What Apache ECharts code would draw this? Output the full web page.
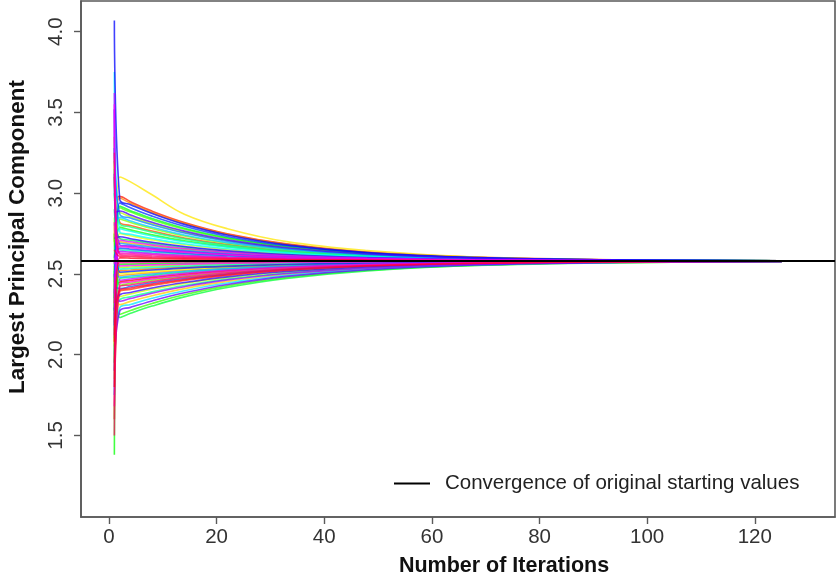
<!DOCTYPE html>
<html>
<head>
<meta charset="utf-8">
<script src="https://cdn.jsdelivr.net/npm/echarts@6/dist/echarts.min.js"></script>
<style>
  html, body { margin: 0; padding: 0; background: #fff; }
  #chart { width: 837px; height: 577px; }
</style>
</head>
<body>
<div id="chart"></div>
<script>
// Iteration numbers at which each run's estimate is recorded
const iterations = [1, 2, 4, 8, 14, 22, 33, 48, 68, 95, 125];

// One row per random starting value: largest principal component estimate at each iteration above
const runs = [
  [2.40, 2.45, 2.459, 2.477, 2.498, 2.519, 2.540, 2.557, 2.569, 2.576, 2.579],
  [2.95, 2.98, 2.947, 2.889, 2.819, 2.749, 2.686, 2.635, 2.604, 2.587, 2.582],
  [1.60, 2.39, 2.404, 2.429, 2.460, 2.491, 2.521, 2.547, 2.565, 2.574, 2.578],
  [3.10, 2.82, 2.800, 2.766, 2.723, 2.682, 2.643, 2.613, 2.594, 2.584, 2.581],
  [2.20, 2.52, 2.524, 2.532, 2.542, 2.552, 2.562, 2.570, 2.575, 2.578, 2.579],
  [2.70, 2.97, 2.938, 2.881, 2.813, 2.745, 2.683, 2.634, 2.603, 2.587, 2.582],
  [3.35, 2.49, 2.497, 2.508, 2.523, 2.538, 2.552, 2.564, 2.573, 2.577, 2.579],
  [2.05, 2.70, 2.690, 2.673, 2.652, 2.631, 2.612, 2.597, 2.587, 2.582, 2.581],
  [2.55, 2.31, 2.330, 2.365, 2.409, 2.454, 2.497, 2.533, 2.558, 2.572, 2.578],
  [2.25, 3.10, 3.070, 2.990, 2.870, 2.780, 2.700, 2.645, 2.605, 2.586, 2.581],
  [2.30, 2.50, 2.506, 2.516, 2.529, 2.543, 2.555, 2.566, 2.574, 2.578, 2.579],
  [1.85, 2.75, 2.736, 2.711, 2.681, 2.652, 2.625, 2.603, 2.590, 2.583, 2.581],
  [2.85, 2.36, 2.376, 2.405, 2.441, 2.477, 2.512, 2.542, 2.562, 2.574, 2.578],
  [2.45, 2.88, 2.855, 2.812, 2.759, 2.707, 2.659, 2.621, 2.598, 2.585, 2.582],
  [3.20, 2.54, 2.543, 2.548, 2.555, 2.561, 2.568, 2.573, 2.577, 2.579, 2.580],
  [2.15, 2.84, 2.819, 2.781, 2.735, 2.690, 2.649, 2.616, 2.595, 2.585, 2.581],
  [2.62, 2.43, 2.441, 2.461, 2.485, 2.510, 2.534, 2.554, 2.568, 2.576, 2.579],
  [1.95, 2.91, 2.883, 2.835, 2.777, 2.720, 2.667, 2.626, 2.599, 2.586, 2.582],
  [2.75, 2.25, 2.274, 2.317, 2.371, 2.426, 2.478, 2.523, 2.553, 2.570, 2.577],
  [2.27, 2.79, 2.773, 2.742, 2.705, 2.669, 2.635, 2.609, 2.592, 2.584, 2.581],
  [1.38, 2.56, 2.561, 2.564, 2.567, 2.571, 2.574, 2.577, 2.578, 2.579, 2.580],
  [2.35, 2.92, 2.892, 2.843, 2.783, 2.724, 2.670, 2.627, 2.600, 2.586, 2.582],
  [2.52, 2.23, 2.256, 2.301, 2.358, 2.416, 2.472, 2.519, 2.552, 2.570, 2.577],
  [2.90, 2.72, 2.709, 2.688, 2.664, 2.639, 2.617, 2.599, 2.588, 2.583, 2.581],
  [2.10, 2.47, 2.478, 2.492, 2.510, 2.529, 2.546, 2.561, 2.571, 2.577, 2.579],
  [3.00, 2.81, 2.791, 2.758, 2.717, 2.677, 2.641, 2.612, 2.594, 2.584, 2.581],
  [2.25, 2.34, 2.358, 2.389, 2.428, 2.468, 2.506, 2.538, 2.561, 2.573, 2.578],
  [2.66, 2.65, 2.644, 2.634, 2.622, 2.610, 2.598, 2.590, 2.584, 2.581, 2.580],
  [3.15, 2.53, 2.534, 2.540, 2.548, 2.557, 2.565, 2.571, 2.576, 2.579, 2.580],
  [2.48, 2.78, 2.764, 2.735, 2.699, 2.665, 2.633, 2.608, 2.592, 2.584, 2.581],
  [3.75, 2.76, 2.745, 2.719, 2.687, 2.656, 2.628, 2.605, 2.591, 2.583, 2.581],
  [2.00, 2.29, 2.311, 2.349, 2.396, 2.444, 2.491, 2.530, 2.557, 2.572, 2.577],
  [2.80, 2.85, 2.828, 2.789, 2.741, 2.694, 2.651, 2.617, 2.596, 2.585, 2.581],
  [2.58, 2.48, 2.487, 2.500, 2.517, 2.533, 2.549, 2.563, 2.572, 2.577, 2.579],
  [1.75, 2.69, 2.681, 2.665, 2.646, 2.627, 2.609, 2.595, 2.586, 2.582, 2.581],
  [3.28, 2.87, 2.846, 2.804, 2.753, 2.703, 2.657, 2.620, 2.597, 2.585, 2.581],
  [2.42, 2.41, 2.422, 2.445, 2.472, 2.500, 2.528, 2.550, 2.566, 2.575, 2.578],
  [2.60, 2.66, 2.653, 2.642, 2.628, 2.614, 2.601, 2.591, 2.585, 2.581, 2.580],
  [2.18, 2.94, 2.910, 2.858, 2.795, 2.732, 2.675, 2.630, 2.601, 2.586, 2.582],
  [3.52, 2.51, 2.515, 2.524, 2.536, 2.547, 2.558, 2.568, 2.574, 2.578, 2.579],
  [4.07, 2.96, 2.929, 2.874, 2.807, 2.741, 2.680, 2.632, 2.602, 2.587, 2.582],
  [2.72, 2.73, 2.718, 2.696, 2.670, 2.643, 2.620, 2.601, 2.589, 2.583, 2.581],
  [2.28, 2.37, 2.385, 2.413, 2.447, 2.482, 2.515, 2.543, 2.563, 2.574, 2.578],
  [2.88, 2.89, 2.865, 2.820, 2.765, 2.711, 2.662, 2.623, 2.598, 2.586, 2.582],
  [1.90, 2.27, 2.293, 2.333, 2.383, 2.435, 2.485, 2.526, 2.555, 2.571, 2.577],
  [3.12, 2.68, 2.672, 2.657, 2.640, 2.622, 2.606, 2.594, 2.586, 2.582, 2.581],
  [2.50, 2.33, 2.348, 2.381, 2.421, 2.463, 2.503, 2.536, 2.560, 2.573, 2.578],
  [2.38, 2.64, 2.635, 2.626, 2.616, 2.605, 2.596, 2.588, 2.584, 2.581, 2.580],
  [3.62, 2.46, 2.469, 2.484, 2.504, 2.524, 2.543, 2.559, 2.570, 2.577, 2.579],
  [2.12, 2.71, 2.699, 2.680, 2.658, 2.635, 2.614, 2.598, 2.588, 2.582, 2.581],
  [3.55, 2.55, 2.552, 2.556, 2.561, 2.566, 2.571, 2.575, 2.578, 2.579, 2.580],
  [2.56, 2.67, 2.663, 2.650, 2.634, 2.618, 2.604, 2.592, 2.585, 2.582, 2.580],
  [1.68, 2.44, 2.450, 2.469, 2.491, 2.514, 2.537, 2.556, 2.569, 2.576, 2.579],
  [2.82, 2.63, 2.626, 2.619, 2.610, 2.601, 2.593, 2.587, 2.583, 2.581, 2.580],
  [2.32, 2.57, 2.571, 2.572, 2.574, 2.575, 2.577, 2.578, 2.579, 2.580, 2.580],
  [3.25, 2.62, 2.617, 2.611, 2.604, 2.597, 2.591, 2.586, 2.582, 2.581, 2.580],
  [1.50, 2.42, 2.432, 2.453, 2.479, 2.505, 2.531, 2.552, 2.567, 2.575, 2.579],
  [2.65, 2.61, 2.608, 2.603, 2.598, 2.593, 2.588, 2.584, 2.582, 2.581, 2.580],
  [2.08, 2.40, 2.413, 2.437, 2.466, 2.496, 2.525, 2.549, 2.565, 2.575, 2.578],
  [1.80, 2.60, 2.598, 2.595, 2.592, 2.588, 2.585, 2.583, 2.581, 2.580, 2.580]
];

// Value reached from the original starting values
const convergedValue = 2.58;

const xTicks = [0, 20, 40, 60, 80, 100, 120];
const yTicks = [1.5, 2.0, 2.5, 3.0, 3.5, 4.0];

const xTitle = 'Number of Iterations';
const yTitle = 'Largest Principal Component';
const legendLabel = 'Convergence of original starting values';

const FONT = '"Liberation Sans", Arial, Helvetica, sans-serif';
const FRAME = '#5a5a5a';

const chart = echarts.init(document.getElementById('chart'), null, { renderer: 'canvas' });

// R-style rainbow palette: one hue per run, red through magenta
const runSeries = runs.map((row, i) => ({
  type: 'line',
  name: 'run ' + (i + 1),
  data: iterations.map((t, k) => [t, row[k]]),
  showSymbol: false,
  symbol: 'none',
  smooth: 0.4,
  silent: true,
  z: 2,
  lineStyle: {
    width: 1.6,
    color: 'hsl(' + (i * 360 / runs.length).toFixed(1) + ', 100%, 50%)',
    opacity: 0.75
  },
  emphasis: { disabled: true }
}));

const convergenceSeries = {
  type: 'line',
  name: legendLabel,
  data: [],
  symbol: 'none',
  z: 5,
  itemStyle: { color: '#000' },
  lineStyle: { color: '#000', width: 2 },
  markLine: {
    silent: true,
    symbol: 'none',
    z: 5,
    label: { show: false },
    lineStyle: { color: '#000', width: 2, type: 'solid' },
    emphasis: { disabled: true },
    data: [{ yAxis: convergedValue }]
  }
};

chart.setOption({
  animation: false,
  backgroundColor: '#fff',
  grid: {
    left: 81, right: 2, top: 1, bottom: 60,
    show: true, borderColor: FRAME, borderWidth: 1.6, backgroundColor: 'transparent'
  },
  xAxis: {
    type: 'value',
    min: -5.2, max: 134.9,
    axisLine: { show: true, onZero: false, lineStyle: { color: FRAME, width: 1.6 } },
    splitLine: { show: false },
    axisTick: { show: true, customValues: xTicks, length: 7, lineStyle: { color: FRAME, width: 1.4 } },
    axisLabel: {
      customValues: xTicks, margin: 10,
      fontSize: 20.5, fontFamily: FONT, color: '#333'
    }
  },
  yAxis: {
    type: 'value',
    min: 0.995, max: 4.19,
    axisLine: { show: true, onZero: false, lineStyle: { color: FRAME, width: 1.6 } },
    splitLine: { show: false },
    axisTick: { show: true, customValues: yTicks, length: 7, lineStyle: { color: FRAME, width: 1.4 } },
    axisLabel: {
      customValues: yTicks, margin: 14, rotate: 90,
      fontSize: 20.5, fontFamily: FONT, color: '#333',
      formatter: v => v.toFixed(1)
    }
  },
  legend: {
    data: [legendLabel],
    left: 394, top: 473, padding: 0,
    icon: 'rect', itemWidth: 36, itemHeight: 2, itemGap: 0,
    selectedMode: false,
    textStyle: { fontSize: 20.5, fontFamily: FONT, color: '#222', padding: [0, 0, 0, 10] }
  },
  graphic: [
    {
      type: 'text', x: 504, y: 566, silent: true,
      style: { text: xTitle, fontSize: 21.5, fontWeight: 'bold', fontFamily: FONT, fill: '#111', align: 'center', verticalAlign: 'middle' }
    },
    {
      type: 'text', x: 18, y: 237, rotation: Math.PI / 2, silent: true,
      style: { text: yTitle, fontSize: 22.5, fontWeight: 'bold', fontFamily: FONT, fill: '#111', align: 'center', verticalAlign: 'middle' }
    }
  ],
  series: runSeries.concat([convergenceSeries])
});
</script>
</body>
</html>
